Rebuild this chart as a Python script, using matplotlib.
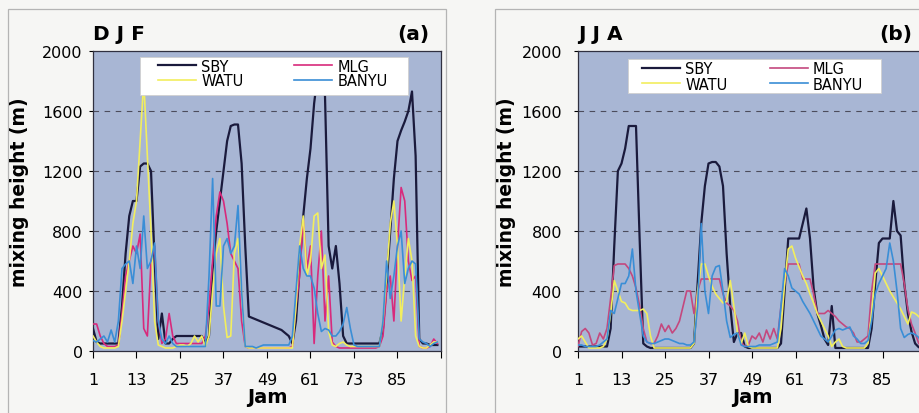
import numpy as np
import matplotlib
matplotlib.use("Agg")
import matplotlib.pyplot as plt
from matplotlib.patches import Rectangle

plt.rcParams['font.family'] = ['DejaVu Sans']

hours = list(range(1, 97))
xtick_vals = list(range(1, 98, 12))
xtick_labels = ['1', '13', '25', '37', '49', '61', '73', '85', '']
ytick_vals = [0, 400, 800, 1200, 1600, 2000]
series_names = ['SBY', 'WATU', 'MLG', 'BANYU']

SBY_DJF = [
    150, 60, 50, 50, 50, 50, 50, 50, 300, 650, 900, 1000,
    1000, 1230, 1250, 1250, 1200, 600, 80, 250, 50, 50, 80, 100,
    100, 100, 100, 100, 100, 100, 100, 50, 100, 550, 800, 1000,
    1200, 1400, 1500, 1510, 1510, 1250, 700, 230, 220, 210, 200, 190,
    180, 170, 160, 150, 140, 120, 100, 50, 200, 550, 900, 1150,
    1350, 1650, 1850, 1850, 1700, 700, 550, 700, 450, 100, 50, 50,
    50, 50, 50, 50, 50, 50, 50, 50, 150, 450, 800, 1150,
    1400, 1470, 1530, 1600, 1730, 1300, 80, 50, 50, 40, 40, 40]
WATU_DJF = [
    100, 60, 30, 20, 20, 20, 20, 30, 200, 400, 600, 850,
    1000, 1400, 1800, 1300, 800, 200, 40, 30, 20, 20, 20, 30,
    40, 40, 30, 50, 100, 60, 100, 30, 100, 400, 650, 750,
    300, 90, 100, 650, 750, 400, 30, 20, 20, 20, 20, 20,
    20, 20, 20, 20, 20, 20, 20, 20, 300, 700, 900, 500,
    600, 900, 920, 550, 640, 130, 40, 30, 50, 60, 40, 30,
    30, 30, 30, 30, 30, 30, 30, 30, 200, 500, 850, 1000,
    700, 200, 500, 750, 600, 100, 30, 20, 20, 40, 60, 60]
MLG_DJF = [
    180, 180, 100, 50, 30, 30, 30, 40, 250, 500, 600, 700,
    650, 780, 150, 100, 600, 700, 200, 50, 80, 250, 100, 50,
    50, 50, 50, 50, 50, 50, 50, 100, 300, 600, 900, 1060,
    1000, 850, 650, 600, 550, 200, 30, 20, 20, 20, 20, 20,
    20, 20, 20, 20, 20, 20, 20, 30, 300, 500, 880, 550,
    700, 50, 500, 800, 200, 500, 60, 30, 20, 20, 20, 20,
    20, 20, 20, 20, 20, 20, 20, 30, 100, 400, 500, 200,
    700, 1090, 1000, 600, 470, 500, 30, 20, 20, 30, 80, 50]
BANYU_DJF = [
    70, 60, 80, 100, 60, 140, 60, 200, 550, 580, 600, 450,
    700, 550, 900, 550, 600, 720, 200, 80, 50, 100, 50, 30,
    30, 30, 30, 30, 30, 30, 30, 30, 500, 1150, 300, 300,
    700, 750, 650, 700, 970, 400, 30, 30, 30, 20, 30, 40,
    40, 40, 40, 40, 40, 40, 40, 100, 400, 700, 550, 500,
    500, 420, 250, 130, 150, 140, 100, 100, 130, 180, 290, 150,
    40, 30, 30, 30, 30, 30, 30, 30, 200, 600, 350, 500,
    700, 800, 450, 550, 600, 580, 80, 60, 50, 30, 50, 60]

SBY_JJA = [
    30, 30, 30, 30, 30, 30, 30, 30, 30, 150, 700, 1200,
    1250, 1350, 1500, 1500, 1500, 750, 50, 30, 20, 20, 20, 20,
    20, 20, 20, 20, 20, 20, 20, 20, 50, 450, 850, 1100,
    1250, 1260, 1260, 1230, 1100, 650, 300, 60, 120, 120, 30, 20,
    20, 20, 20, 20, 20, 20, 20, 20, 50, 400, 750, 750,
    750, 750, 850, 950, 750, 420, 250, 170, 80, 40, 300, 20,
    20, 20, 20, 20, 20, 20, 20, 20, 20, 150, 450, 720,
    750, 750, 750, 1000, 800, 770, 450, 250, 130, 50, 25, 20]
MLG_JJA = [
    30, 130, 150, 120, 40, 50, 120, 80, 150, 350, 570, 580,
    580, 580, 550, 500, 420, 300, 150, 60, 50, 50, 100, 180,
    130, 170, 120, 150, 200, 300, 400, 400, 250, 400, 480, 480,
    480, 480, 480, 480, 380, 320, 300, 270, 200, 60, 30, 40,
    100, 80, 120, 60, 140, 80, 150, 80, 300, 450, 580, 580,
    580, 580, 480, 480, 480, 380, 250, 250, 250, 270, 250, 230,
    200, 180, 160, 150, 120, 60, 60, 80, 100, 400, 580, 580,
    580, 580, 580, 580, 580, 580, 450, 280, 180, 120, 50, 30]
WATU_JJA = [
    80, 100, 60, 20, 20, 20, 20, 30, 80, 250, 470, 400,
    330, 320, 280, 270, 270, 270, 280, 250, 100, 20, 20, 20,
    20, 20, 20, 20, 20, 20, 20, 20, 50, 400, 580, 580,
    500, 430, 380, 350, 320, 330, 470, 300, 120, 50, 120, 30,
    20, 20, 20, 20, 20, 20, 20, 20, 150, 450, 680, 700,
    620, 560, 500, 450, 380, 320, 250, 200, 150, 100, 30, 60,
    80, 30, 20, 20, 20, 20, 20, 20, 50, 250, 520, 550,
    500, 450, 400, 360, 320, 280, 230, 180, 260, 250, 230, 200]
BANYU_JJA = [
    40, 40, 30, 30, 30, 30, 40, 60, 80, 270, 250, 350,
    450, 450, 500, 680, 400, 250, 100, 60, 50, 50, 60, 70,
    80, 80, 70, 60, 50, 50, 40, 40, 60, 300, 850, 400,
    250, 500, 560, 570, 400, 200, 90, 110, 120, 40, 30, 30,
    30, 30, 40, 40, 40, 40, 50, 60, 300, 550, 500, 420,
    400, 380, 330, 290, 250, 200, 150, 100, 80, 60, 100, 140,
    150, 140, 150, 160, 100, 80, 50, 50, 70, 200, 380, 450,
    500, 550, 720, 600, 400, 150, 90, 110, 120, 110, 90, 40]

W, H = 920, 414
fig = plt.figure(figsize=(W / 100, H / 100), dpi=100, facecolor='#f6f6f4')

# outer panel frames
for x0, w in ((8, 438), (495, 440)):
    fig.add_artist(Rectangle((x0 / W, -0.05), w / W, 1.05 - 10 / H,
                             transform=fig.transFigure, facecolor='none',
                             edgecolor='#b4b4b4', lw=0.9))

col_sby = '#1a1a3c'
col_watu = '#f2ee5e'
col_banyu = '#3a8ed6'


def panel(left_px, data, mlg_col, season, letter, letter_x, ylab_x, ytick_pad,
          box, leg_anchor, colsp):
    ax = fig.add_axes([left_px / W, 62 / H, 348 / W, 300 / H])
    ax.set_facecolor('#a8b6d4')
    sby, watu, mlg, banyu = data
    l1, = ax.plot(hours, sby, color=col_sby, lw=1.6, zorder=3)
    l3, = ax.plot(hours, mlg, color=mlg_col, lw=1.2, zorder=3)
    l2, = ax.plot(hours, watu, color=col_watu, lw=1.2, zorder=3)
    l4, = ax.plot(hours, banyu, color=col_banyu, lw=1.2, zorder=3)
    ax.set_xlim(1, 97)
    ax.set_ylim(0, 2000)
    ax.set_yticks(ytick_vals)
    ax.set_yticklabels([str(v) for v in ytick_vals])
    ax.set_xticks(xtick_vals)
    ax.set_xticklabels(xtick_labels)
    for y in ytick_vals[1:-1]:
        ax.axhline(y, color='#4c4c5c', lw=0.8, ls=(0, (5, 5)), zorder=2)
    ax.tick_params(axis='y', length=3, pad=ytick_pad, labelsize=11.5, direction='out', width=0.8)
    ax.tick_params(axis='x', length=5, pad=10, labelsize=11.5, direction='out', width=0.8)
    for s in ax.spines.values():
        s.set_color('#303040')
        s.set_linewidth(0.9)
    ax.text(0.5, -0.153, 'Jam', transform=ax.transAxes, ha='center', va='center',
            fontsize=14, fontweight='bold')
    ax.text(0.0, 1.057, season, transform=ax.transAxes, ha='left', va='center',
            fontsize=14.5, fontweight='bold')
    ax.text(letter_x, 1.057, letter, transform=ax.transAxes,
            ha='right', va='center', fontsize=14.5, fontweight='bold')
    fig.text(ylab_x / W, 1 - 192 / H, 'mixing height (m)', rotation=90, ha='center',
             va='center', fontsize=13.5, fontweight='bold')
    # legend background box
    bx0, by0, bx1, by1 = box
    ax.add_patch(Rectangle((bx0, by0), bx1 - bx0, by1 - by0, transform=ax.transAxes,
                           facecolor='white', edgecolor='#d0d0d0', lw=0.6, zorder=4))
    leg = ax.legend([l1, l2, l3, l4], series_names, ncol=2, loc='upper left',
                    bbox_to_anchor=leg_anchor, fontsize=10.5, labelspacing=0.0,
                    handlelength=2.6, handletextpad=0.35, columnspacing=colsp,
                    borderpad=0.0, frameon=False, borderaxespad=0)
    leg.set_zorder(5)
    return ax


panel(93, (SBY_DJF, WATU_DJF, MLG_DJF, BANYU_DJF), '#d82a7c', 'D J F', '(a)', 0.968,
      20, 4.3, (0.135, 0.853, 0.905, 0.98), (0.187, 0.975), 3.5)
panel(578, (SBY_JJA, WATU_JJA, MLG_JJA, BANYU_JJA), '#c4487e', 'J J A', '(b)', 0.96,
      507, 8.6, (0.144, 0.86, 0.871, 0.973), (0.184, 0.965), 2.9)

fig.savefig('out.png', dpi=100, facecolor=fig.get_facecolor())
